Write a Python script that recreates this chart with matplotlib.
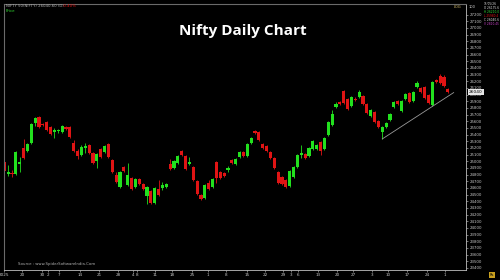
import numpy as np
import matplotlib
matplotlib.use("Agg")
import matplotlib.pyplot as plt

# ==========================================
# 1. DATA (daily candles)
# ==========================================
opens = [24990, 24810, 24830, 24810, 24960, 25200, 25155, 25275, 25575, 25665,
         25560, 25590, 25515, 25440, 25455, 25440, 25515, 25515, 25275, 25155,
         25095, 25200, 25245, 25125, 25005, 25185, 25140, 25260, 25020, 24795,
         24615, 24915, 24645, 24750, 24615, 24735, 24660, 24480, 24555, 24375,
         24585, 24600, 24615, 24960, 24900, 24975, 25155, 25080, 24960, 24915,
         24705, 24495, 24450, 24675, 24615, 24990, 24840, 24825, 24870, 25020,
         24960, 25065, 25140, 25080, 25275, 25455, 25440, 25260, 25230, 25140,
         25050, 24840, 24765, 24720, 24630, 24765, 24915, 25095, 25110, 25080,
         25185, 25185, 25290, 25185, 25395, 25545, 25815, 25890, 26055, 25935,
         25830, 25935, 25965, 25980, 25860, 25680, 25740, 25605, 25440, 25515,
         25620, 25815, 25905, 25755, 25935, 26025, 25905, 26115, 26100, 26115,
         25995, 25845, 26220, 26280, 26265, 26085]
highs = [25020, 24945, 24870, 25155, 25065, 25335, 25275, 25575, 25665, 25680,
         25575, 25605, 25530, 25500, 25485, 25545, 25530, 25530, 25320, 25185,
         25245, 25275, 25260, 25140, 25125, 25200, 25245, 25275, 25035, 24840,
         24855, 24930, 24975, 24765, 24750, 24750, 24675, 24630, 24570, 24615,
         24720, 24690, 24675, 25035, 25020, 25095, 25170, 25095, 25065, 24930,
         24720, 24510, 24660, 24720, 24750, 25005, 24855, 24840, 24930, 25035,
         25050, 25155, 25155, 25275, 25365, 25470, 25455, 25275, 25245, 25155,
         25065, 24855, 24780, 24735, 24870, 24930, 25110, 25245, 25125, 25215,
         25320, 25260, 25305, 25365, 25605, 25770, 25890, 25905, 26070, 25950,
         25980, 25965, 26070, 25995, 25875, 25785, 25755, 25620, 25530, 25590,
         25725, 25905, 25920, 25920, 26025, 26040, 26055, 26205, 26115, 26130,
         26010, 26205, 26235, 26310, 26295, 26100]
lows = [24840, 24780, 24765, 24795, 24840, 25035, 25140, 25260, 25530, 25500,
        25530, 25455, 25395, 25350, 25425, 25425, 25470, 25350, 25140, 25035,
        25080, 25125, 25110, 24960, 24900, 25050, 25125, 25050, 24825, 24675,
        24600, 24840, 24630, 24570, 24600, 24645, 24570, 24360, 24360, 24360,
        24480, 24570, 24600, 24870, 24885, 24960, 25080, 24870, 24945, 24705,
        24495, 24420, 24435, 24570, 24600, 24675, 24735, 24765, 24840, 24960,
        24945, 25050, 25065, 25065, 25260, 25410, 25305, 25185, 25140, 25035,
        24885, 24660, 24645, 24600, 24615, 24750, 24900, 25050, 25035, 25065,
        25170, 25170, 25095, 25170, 25380, 25530, 25800, 25845, 25860, 25770,
        25815, 25905, 25950, 25845, 25710, 25665, 25575, 25500, 25335, 25500,
        25605, 25800, 25845, 25740, 25920, 25875, 25890, 26100, 26025, 25935,
        25860, 25830, 26175, 26160, 26115, 26025]
closes = [24855, 24840, 24810, 25140, 24990, 25050, 25260, 25560, 25650, 25515,
          25545, 25470, 25410, 25470, 25470, 25530, 25485, 25365, 25155, 25080,
          25215, 25230, 25125, 24975, 25110, 25065, 25230, 25065, 24840, 24690,
          24840, 24855, 24795, 24585, 24735, 24660, 24585, 24615, 24375, 24600,
          24495, 24645, 24660, 24885, 25005, 25080, 25095, 24885, 24990, 24720,
          24510, 24435, 24645, 24585, 24735, 24750, 24750, 24780, 24900, 24975,
          25035, 25140, 25080, 25260, 25350, 25425, 25320, 25200, 25155, 25050,
          24900, 24675, 24660, 24615, 24855, 24915, 25095, 25125, 25050, 25200,
          25305, 25245, 25155, 25350, 25590, 25710, 25860, 25860, 25875, 25785,
          25965, 25920, 26040, 25860, 25725, 25770, 25590, 25515, 25515, 25575,
          25710, 25890, 25860, 25905, 26010, 25890, 26040, 26175, 26040, 25950,
          25875, 26190, 26190, 26175, 26130, 26040]

# weekly date labels on the time axis (candle index, text)
date_pos = [0, 4.6, 9.8, 11.3, 14.2, 19.6, 24.6, 29.5, 33.4, 34.4, 39, 43.5, 48.7, 52.8,
            57.5, 63, 67.6, 72.3, 74.3, 76.2, 81.4, 86.3, 90.4, 95.4, 99.5, 104.4, 109.6, 114.3]
date_txt = ["2025", "20", "30", "2", "7", "14", "21", "28", "4", "8", "11", "18", "25", "1",
            "8", "15", "22", "29", "3", "6", "13", "20", "27", "3", "10", "17", "24", "1"]

# trendline drawn under the last swing lows (candle index, price)
trend_x = [98, 116.5]
trend_y = [25335, 26030]

price_ticks = list(range(23400, 27300, 100))
last_price = closes[-1]

# ==========================================
# 2. FIGURE
# ==========================================
plt.rcParams['font.family'] = ['DejaVu Sans']
fig = plt.figure(figsize=(5, 2.8), dpi=100, facecolor='black')
ax = fig.add_axes([0.008, 0.036, 0.924, 0.95], facecolor='black')

idx = np.arange(len(opens))
o = np.array(opens)
c = np.array(closes)
h = np.array(highs)
l = np.array(lows)
up = c >= o
cols = np.where(up, '#22e01e', '#e01414')

ax.vlines(idx, l, h, colors=cols, linewidth=0.6)
body_bot = np.minimum(o, c)
body_h = np.maximum(np.abs(c - o), 10)
ax.bar(idx, body_h, bottom=body_bot, width=0.8, color=cols, linewidth=0)

ax.plot(trend_x, trend_y, color='#9a9a9a', linewidth=0.6)

ax.set_xlim(-0.08, 119.7)
ax.set_ylim(23370, 27360)

# axes look
for side in ['left', 'top']:
    ax.spines[side].set_color('#6a6a6a')
    ax.spines[side].set_linewidth(0.8)
for side in ['right', 'bottom']:
    ax.spines[side].set_color('#bfbfbf')
    ax.spines[side].set_linewidth(0.6)

ax.yaxis.tick_right()
ax.set_yticks(price_ticks)
ax.set_yticklabels([str(p) for p in price_ticks])
ax.tick_params(axis='y', colors='#c8c8c8', labelsize=2.8, length=1.5, width=0.4, pad=1.2)
ax.set_xticks(date_pos)
ax.set_xticklabels(date_txt)
ax.tick_params(axis='x', colors='#c8c8c8', labelsize=3.0, length=1.5, width=0.4, pad=1.0)

# current price box on the price axis
ax.annotate(f"{last_price}", xy=(1.0, last_price), xycoords=('axes fraction', 'data'),
            xytext=(2, 0), textcoords='offset points', fontsize=3.2, color='black',
            va='center', ha='left',
            bbox=dict(boxstyle='square,pad=0.25', fc='#e6e6e6', ec='none'))

# ==========================================
# 3. TEXTS
# ==========================================
fig.text(0.486, 0.889, "Nifty Daily Chart", color='white', fontsize=11,
         fontweight='bold', ha='center', va='center',
         family=['Open Sans', 'DejaVu Sans'])

fig.text(0.012, 0.978, "NIFTY 50(NIFTY) 26040.60 (D)", color='#b0b0b0', fontsize=2.8, va='center')
fig.text(0.125, 0.978, "-0.40%", color='#e01414', fontsize=2.8, va='center')
fig.text(0.012, 0.960, "Price", color='#33dd33', fontsize=2.8, va='center')
fig.text(0.035, 0.057, "Source : www.SpiderSoftwareIndia.Com", color='#b0b0b0', fontsize=2.8, va='center')

fig.text(0.908, 0.975, "LOG", color='#d8c070', fontsize=2.6, va='center')
fig.text(0.937, 0.975, "100", color='#c8c8c8', fontsize=2.6, va='center')
legend_lines = ["15/05/26", "O 26175.6", "H 26210.0", "L 25980.4", "C 26040.6", "V 2810.45"]
legend_cols = ['#e0e0e0', '#e0e0e0', '#33dd33', '#e01414', '#e0e0e0', '#cc44cc']
for k, (t, cc) in enumerate(zip(legend_lines, legend_cols)):
    fig.text(0.967, 0.985 - k * 0.014, t, color=cc, fontsize=2.1, va='center')

fig.text(0.984, 0.018, "Rs", color='black', fontsize=2.6, va='center', ha='center',
         bbox=dict(boxstyle='square,pad=0.2', fc='#c8a020', ec='none'))

fig.savefig('out.png', dpi=100, facecolor='black')
